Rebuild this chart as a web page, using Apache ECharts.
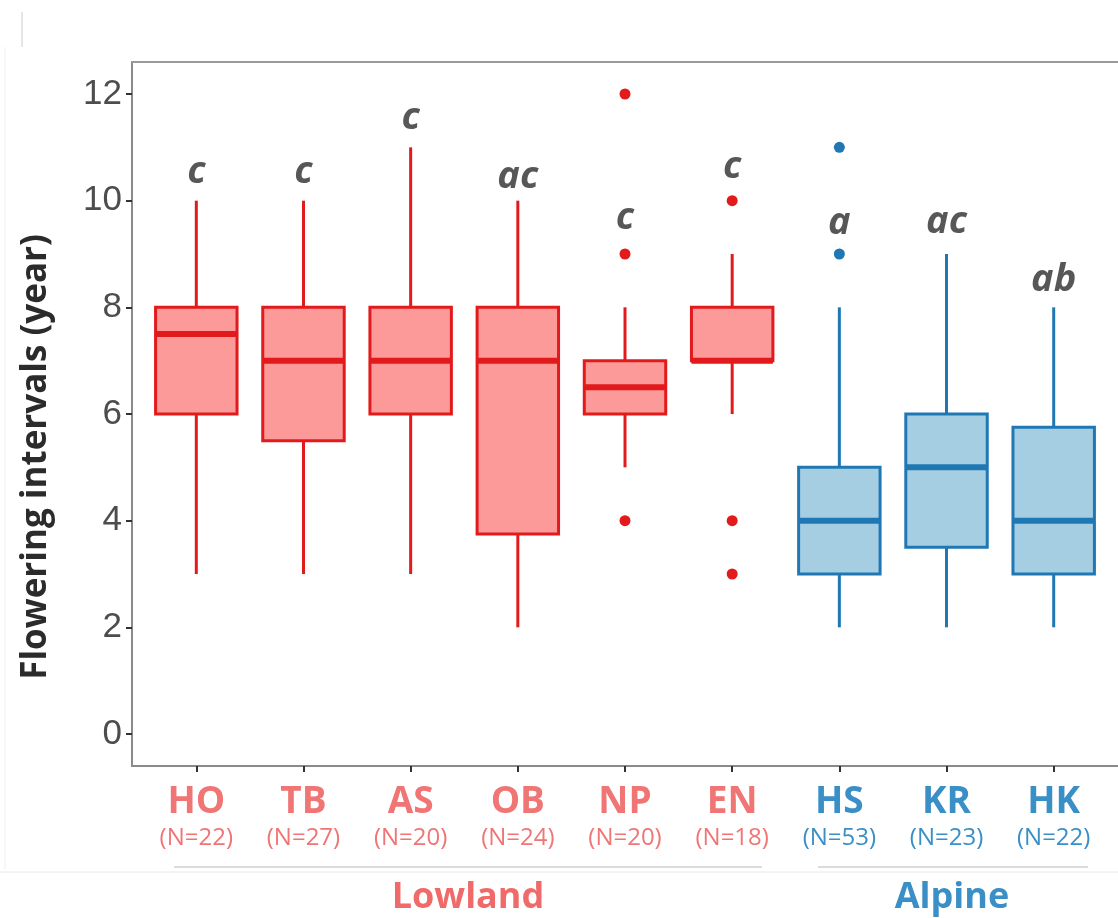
<!DOCTYPE html>
<html>
<head>
<meta charset="utf-8">
<script src="https://cdn.jsdelivr.net/npm/echarts@6/dist/echarts.min.js"></script>
<style>
    html, body {margin: 0; padding: 0; background: #fff;}
    #chart {width: 1118px; height: 918px;}
</style>
</head>
<body>
<div id="chart"></div>
<script>
// sites, sample sizes and habitat group
const categories = ['HO', 'TB', 'AS', 'OB', 'NP', 'EN', 'HS', 'KR', 'HK'];
const sampleSizes = [22, 27, 20, 24, 20, 18, 53, 23, 22];
const habitat = ['Lowland', 'Lowland', 'Lowland', 'Lowland', 'Lowland', 'Lowland', 'Alpine', 'Alpine', 'Alpine'];

// box statistics (years)
const whiskerLow = [3, 3, 3, 2, 5, 6, 2, 2, 2];
const q1 = [6, 5.5, 6, 3.75, 6, 7, 3, 3.5, 3];
const median = [7.5, 7, 7, 7, 6.5, 7, 4, 5, 4];
const q3 = [8, 8, 8, 8, 7, 8, 5, 6, 5.75];
const whiskerHigh = [10, 10, 11, 10, 8, 9, 8, 9, 8];

// outliers: site index + value
const outlierSite = [4, 4, 4, 5, 5, 5, 6, 6];
const outlierValue = [12, 9, 4, 10, 4, 3, 11, 9];

// significance letters and where they sit
const letters = ['c', 'c', 'c', 'ac', 'c', 'c', 'a', 'ac', 'ab'];
const letterY = [10.54, 10.54, 11.55, 10.44, 9.68, 10.63, 9.58, 9.6, 8.5];

const yTicks = [0, 2, 4, 6, 8, 10, 12];

const colors = {
    Lowland: {stroke: '#E31A1C', fill: '#FB9A99', text: '#F07575'},
    Alpine: {stroke: '#1F78B4', fill: '#A6CEE3', text: '#3A8FC6'}
};

const boxData = categories.map((c, i) => [i + 1, whiskerLow[i], q1[i], median[i], q3[i], whiskerHigh[i], i]);
const outlierData = outlierSite.map((s, i) => [s + 1, outlierValue[i], s]);
const letterData = letters.map((l, i) => [i + 1, letterY[i], i]);

function renderBox(params, api) {
    const x = api.value(0);
    const idx = api.value(6);
    const col = colors[habitat[idx]];
    const pLow = api.coord([x, api.value(1)]);
    const pQ1 = api.coord([x, api.value(2)]);
    const pMed = api.coord([x, api.value(3)]);
    const pQ3 = api.coord([x, api.value(4)]);
    const pHigh = api.coord([x, api.value(5)]);
    const halfW = api.size([0.76, 0])[0] / 2;
    const line = {stroke: col.stroke, lineWidth: 3};
    return {
        type: 'group',
        children: [
            {type: 'line', shape: {x1: pLow[0], y1: pLow[1], x2: pQ1[0], y2: pQ1[1]}, style: line},
            {type: 'line', shape: {x1: pQ3[0], y1: pQ3[1], x2: pHigh[0], y2: pHigh[1]}, style: line},
            {
                type: 'rect',
                shape: {x: pQ3[0] - halfW, y: pQ3[1], width: halfW * 2, height: pQ1[1] - pQ3[1]},
                style: {fill: col.fill, stroke: col.stroke, lineWidth: 3}
            },
            {
                type: 'line',
                shape: {x1: pMed[0] - halfW, y1: pMed[1], x2: pMed[0] + halfW, y2: pMed[1]},
                style: {stroke: col.stroke, lineWidth: 6}
            }
        ]
    };
}

const rich = {};
['Lowland', 'Alpine'].forEach(g => {
    rich[g + 'N'] = {
        fontFamily: 'Open Sans', fontWeight: 'bold', fontSize: 37,
        color: colors[g].text, lineHeight: 44, align: 'center'
    };
    rich[g + 'S'] = {
        fontFamily: 'Open Sans', fontSize: 24,
        color: colors[g].text, lineHeight: 28, align: 'center'
    };
});

const chart = echarts.init(document.getElementById('chart'), null, {renderer: 'canvas'});

chart.setOption({
    animation: false,
    backgroundColor: '#fff',
    grid: {left: 132, right: 0, top: 62, bottom: 152},
    xAxis: [{
        type: 'value',
        min: 0.4,
        max: 9.6,
        axisLine: {onZero: false, lineStyle: {color: '#8a8a8a', width: 2}},
        axisTick: {
            show: true, length: 6, customValues: categories.map((c, i) => i + 1),
            lineStyle: {color: '#333', width: 2}
        },
        splitLine: {show: false},
        axisLabel: {
            customValues: categories.map((c, i) => i + 1),
            margin: 14,
            formatter: v => {
                const i = Math.round(v) - 1;
                const g = habitat[i];
                return '{' + g + 'N|' + categories[i] + '}\n{' + g + 'S|(N=' + sampleSizes[i] + ')}';
            },
            rich
        }
    }, {
        type: 'value',
        position: 'top',
        min: 0.4,
        max: 9.6,
        axisLine: {show: true, onZero: false, lineStyle: {color: '#9a9a9a', width: 2}},
        axisTick: {show: false},
        axisLabel: {show: false},
        splitLine: {show: false}
    }],
    yAxis: {
        type: 'value',
        min: -0.6,
        max: 12.6,
        axisLine: {show: true, onZero: false, lineStyle: {color: '#8a8a8a', width: 2}},
        axisTick: {show: true, length: 6, customValues: yTicks, lineStyle: {color: '#333', width: 2}},
        splitLine: {show: false},
        axisLabel: {
            customValues: yTicks,
            margin: 10,
            fontFamily: 'Liberation Sans',
            fontSize: 35,
            color: '#4D4D4D'
        }
    },
    series: [{
        type: 'custom',
        renderItem: renderBox,
        data: boxData,
        encode: {x: 0, y: [1, 2, 3, 4, 5]},
        z: 2
    }, {
        type: 'scatter',
        data: outlierData,
        symbolSize: 11,
        itemStyle: {
            opacity: 1,
            color: p => colors[habitat[p.data[2]]].stroke
        },
        z: 3
    }, {
        type: 'scatter',
        data: letterData,
        symbolSize: 0,
        label: {
            show: true,
            position: 'inside',
            formatter: p => letters[p.data[2]],
            fontFamily: 'Open Sans',
            fontWeight: 'bold',
            fontStyle: 'italic',
            fontSize: 38,
            color: '#2d2d2d'
        },
        z: 4
    }],
    graphic: [
        {
            type: 'text', x: 36, y: 457, rotation: Math.PI / 2,
            style: {
                text: 'Flowering intervals (year)', align: 'center', verticalAlign: 'middle',
                font: 'bold 35px "Open Sans"', fill: '#2b2b2b'
            }
        },
        {
            type: 'text', x: 468, y: 898,
            style: {
                text: 'Lowland', align: 'center', verticalAlign: 'middle',
                font: 'bold 36px "Open Sans"', fill: '#F06A6A'
            }
        },
        {
            type: 'text', x: 952, y: 898,
            style: {
                text: 'Alpine', align: 'center', verticalAlign: 'middle',
                font: 'bold 36px "Open Sans"', fill: '#3A8FC6'
            }
        },
        {type: 'line', shape: {x1: 174, y1: 867, x2: 762, y2: 867}, style: {stroke: '#cfcfcf', lineWidth: 1.5}},
        {type: 'line', shape: {x1: 818, y1: 867, x2: 1088, y2: 867}, style: {stroke: '#cfcfcf', lineWidth: 1.5}},
        {type: 'line', shape: {x1: 0, y1: 872, x2: 1118, y2: 872}, style: {stroke: '#e8e8e8', lineWidth: 1}},
        {type: 'line', shape: {x1: 22, y1: 12, x2: 22, y2: 47}, style: {stroke: '#cccccc', lineWidth: 1}},
        {type: 'line', shape: {x1: 5, y1: 47, x2: 5, y2: 870}, style: {stroke: '#f0f0f0', lineWidth: 1}}
    ]
});
</script>
</body>
</html>
